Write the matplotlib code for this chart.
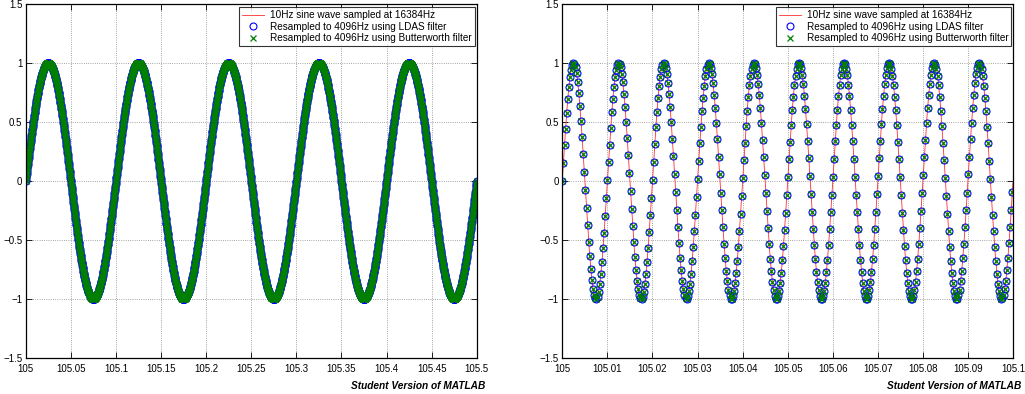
import numpy as np
import matplotlib
matplotlib.use("Agg")
import matplotlib.pyplot as plt
from matplotlib.ticker import FuncFormatter, MultipleLocator

plt.rcParams['font.family'] = ['Liberation Sans', 'DejaVu Sans']
plt.rcParams['font.size'] = 7

# signal parameters (from legend / axes)
t_start = 105.0
fs_orig = 16384      # Hz, original sampling
fs_new = 4096        # Hz, resampled
panel_freq = [10, 100]      # sine frequency shown in each panel
panel_span = [0.5, 0.1]     # seconds shown in each panel
panel_xstep = [0.05, 0.01]  # x tick spacing

legend_labels = ["10Hz sine wave sampled at 16384Hz",
                 "Resampled to 4096Hz using LDAS filter",
                 "Resampled to 4096Hz using Butterworth filter"]
y_ticks = [-1.5, -1, -0.5, 0, 0.5, 1, 1.5]


def fmt(v, pos=None):
    s = "%g" % round(v, 6)
    return s.replace("-", "\u2212")


fig = plt.figure(figsize=(10.25, 3.94), dpi=100)
W, H = 1025, 394
boxes = [(25.7, 4, 476.7, 358), (562.3, 4, 1013, 358)]

for k in range(2):
    x0, y0, x1, y1 = boxes[k]
    ax = fig.add_axes([x0 / W, 1 - y1 / H, (x1 - x0) / W, (y1 - y0) / H])
    f = panel_freq[k]
    span = panel_span[k]
    t_hi = t_start + np.arange(int(span * fs_orig) + 1) / fs_orig
    t_lo = t_start + np.arange(int(span * fs_new) + 1) / fs_new
    y_hi = np.sin(2 * np.pi * f * (t_hi - t_start))
    y_ldas = np.sin(2 * np.pi * f * (t_lo - t_start))
    y_butt = np.sin(2 * np.pi * f * (t_lo - t_start))

    ax.plot(t_hi, y_hi, color='#ff3030', lw=0.6, label=legend_labels[0])
    ax.plot(t_lo, y_ldas, ls='none', marker='o', mfc='none', mec='blue',
            ms=5, mew=0.8, label=legend_labels[1])
    ax.plot(t_lo, y_butt, ls='none', marker='x', color='green',
            ms=4.2, mew=0.9, label=legend_labels[2])

    ax.set_xlim(t_start, t_start + span)
    ax.set_ylim(-1.5, 1.5)
    ax.xaxis.set_major_locator(MultipleLocator(panel_xstep[k]))
    ax.set_yticks(y_ticks)
    ax.xaxis.set_major_formatter(FuncFormatter(fmt))
    ax.yaxis.set_major_formatter(FuncFormatter(fmt))
    ax.tick_params(direction='in', top=True, right=True, length=4,
                   width=0.6, labelsize=7)
    ax.tick_params(axis='x', pad=4)
    ax.tick_params(axis='y', pad=2.5)
    ax.grid(True, ls=':', color='#888888', lw=0.6)
    for sp in ax.spines.values():
        sp.set_linewidth(0.9)
    leg = ax.legend(loc='upper right', fontsize=7.2, frameon=True, fancybox=False,
                    edgecolor='black', borderpad=0.3, labelspacing=0.15,
                    handlelength=2.2, handletextpad=0.6, borderaxespad=0,
                    bbox_to_anchor=(0.996, 0.991))
    leg.get_frame().set_linewidth(0.8)
    fig.text((x1 + 8.5) / W, 1 - 386 / H, "Student Version of MATLAB",
             ha='right', va='center', fontsize=7.3, fontweight='bold',
             fontstyle='italic')

fig.savefig("out.png", dpi=100)
